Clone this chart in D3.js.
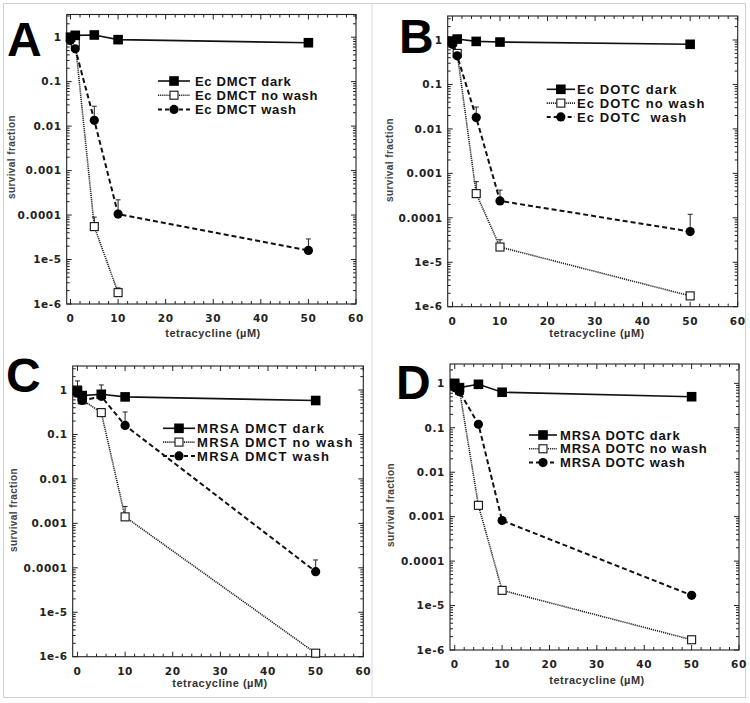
<!DOCTYPE html>
<html><head><meta charset="utf-8">
<script src="https://cdn.jsdelivr.net/npm/d3@7"></script>
<style>body{margin:0;background:#fff}svg{display:block}</style>
</head><body><svg id="c" width="750" height="703"></svg>
<script>
// ---------- data ----------
const conc = [0, 1, 5, 10, 50];
const xTicks = [0, 10, 20, 30, 40, 50, 60];
const yTicks = [1, 0.1, 0.01, 0.001, 0.0001, 1e-5, 1e-6];
const yTickLabels = ["1", "0.1", "0.01", "0.001", "0.0001", "1e-5", "1e-6"];
const panelLetters = ["A", "B", "C", "D"];
const xTitle = "tetracycline (\u00b5M)";
const yTitle = "survival fraction";

const A_dark   = [1.0, 1.1, 1.12, 0.88, 0.75];
const A_nowash = [0.95, 0.75, 5.5e-5, 1.8e-6, null];
const A_wash   = [0.85, 0.55, 0.0135, 1.05e-4, 1.6e-5];
const A_nowashErr = [null, null, 9e-5, 2.3e-6, null];
const A_washErr   = [null, null, 0.028, 2.2e-4, 2.9e-5];

const B_dark   = [0.95, 1.05, 0.93, 0.9, 0.8];
const B_nowash = [0.9, 0.5, 3.5e-4, 2.2e-5, 1.75e-6];
const B_wash   = [0.8, 0.44, 0.018, 2.4e-4, 4.9e-5];
const B_nowashErr = [null, null, 6.5e-4, 3.2e-5, null];
const B_washErr   = [null, null, 0.031, 4.2e-4, 1.2e-4];

const C_dark   = [0.95, 0.75, 0.8, 0.7, 0.58];
const C_nowash = [1.0, 0.6, 0.31, 0.0014, 1.2e-6];
const C_wash   = [0.85, 0.58, 0.72, 0.16, 8.2e-5];
const C_nowashErr = [1.6, null, null, 0.0024, null];
const C_washErr   = [null, null, 1.3, 0.32, 1.5e-4];

const D_dark   = [1.0, 0.8, 0.95, 0.63, 0.5];
const D_nowash = [0.9, 0.7, 0.0018, 2.2e-5, 1.7e-6];
const D_wash   = [0.8, 0.65, 0.12, 8.2e-4, 1.7e-5];
const D_nowashErr = [null, null, null, null, null];
const D_washErr   = [null, null, null, null, null];

const legendA = ["Ec DMCT dark", "Ec DMCT no wash", "Ec DMCT wash"];
const legendB = ["Ec DOTC dark", "Ec DOTC no wash", "Ec DOTC  wash"];
const legendC = ["MRSA DMCT dark", "MRSA DMCT no wash", "MRSA DMCT wash"];
const legendD = ["MRSA DOTC dark", "MRSA DOTC no wash", "MRSA DOTC wash"];

// ---------- layout ----------
const layout = [
  {left: 66.7, right: 356, top: 14.5, bottom: 304, xMin: -0.8, topDec: 0.51,
   letter: [7, 56], leg: {x1: 158, x2: 190, tx: 195, y0: 81, dy: 14.2, fs: 13, ls: 0.7},
   xt: [213, 337], yt: [11, 157]},
  {left: 447.7, right: 737.7, top: 16, bottom: 306.7, xMin: -1, topDec: 0.54,
   letter: [399, 53], leg: {x1: 546.7, x2: 575, tx: 577, y0: 89.3, dy: 13.8, fs: 13, ls: 1.1},
   xt: [597, 337], yt: [389, 160]},
  {left: 72.7, right: 363.3, top: 366, bottom: 656.7, xMin: -1, topDec: 0.54,
   letter: [6, 392], leg: {x1: 163, x2: 195, tx: 197, y0: 428.3, dy: 13.8, fs: 13, ls: 1.3},
   xt: [220, 687], yt: [13, 510]},
  {left: 450, right: 739, top: 364, bottom: 650, xMin: -1, topDec: 0.435,
   letter: [396, 399], leg: {x1: 529, x2: 557, tx: 560, y0: 435, dy: 13.8, fs: 13, ls: 0.8},
   xt: [597, 684], yt: [390, 505]}
];

const panels = [
  {dark: A_dark, nowash: A_nowash, wash: A_wash, nErr: A_nowashErr, wErr: A_washErr, legend: legendA},
  {dark: B_dark, nowash: B_nowash, wash: B_wash, nErr: B_nowashErr, wErr: B_washErr, legend: legendB},
  {dark: C_dark, nowash: C_nowash, wash: C_wash, nErr: C_nowashErr, wErr: C_washErr, legend: legendC},
  {dark: D_dark, nowash: D_nowash, wash: D_wash, nErr: D_nowashErr, wErr: D_washErr, legend: legendD}
];

const styles = {
  dark:   {w: 1.6, dash: null,  color: "#111"},
  nowash: {w: 1.6, dash: "1.2,0.9", color: "#222"},
  wash:   {w: 2,   dash: "5,3", color: "#111"}
};

const svg = d3.select("#c");
// outer frame
svg.append("rect").attr("x", 3.5).attr("y", 3.5).attr("width", 742).attr("height", 694)
  .attr("fill", "none").attr("stroke", "#d0d0d0").attr("stroke-width", 1);
svg.append("line").attr("x1", 372).attr("x2", 372).attr("y1", 3.5).attr("y2", 697.5)
  .attr("stroke", "#d8d8d8").attr("stroke-width", 1);

function marker(g, kind, cx, cy) {
  if (kind === "dark") {
    g.append("rect").attr("x", cx - 4.8).attr("y", cy - 4.8).attr("width", 9.6).attr("height", 9.6).attr("fill", "#000");
  } else if (kind === "nowash") {
    g.append("rect").attr("x", cx - 4).attr("y", cy - 4).attr("width", 8).attr("height", 8)
      .attr("fill", "#fff").attr("stroke", "#111").attr("stroke-width", 1.1);
  } else {
    g.append("circle").attr("cx", cx).attr("cy", cy).attr("r", 4.6).attr("fill", "#000");
  }
}

panels.forEach((p, i) => {
  const L = layout[i];
  const g = svg.append("g");
  const x = d3.scaleLinear().domain([L.xMin, 60]).range([L.left, L.right]);
  const y = d3.scaleLog().domain([1e-6, Math.pow(10, L.topDec)]).range([L.bottom, L.top]);

  // frame
  g.append("rect").attr("x", L.left).attr("y", L.top).attr("width", L.right - L.left).attr("height", L.bottom - L.top)
    .attr("fill", "none").attr("stroke", "#222").attr("stroke-width", 1.1);

  // x ticks (major 10, minor 2)
  const xMinor = d3.range(0, 61, 2);
  xMinor.forEach(v => {
    const len = v % 10 === 0 ? 5 : 3;
    const xx = x(v);
    g.append("line").attr("x1", xx).attr("x2", xx).attr("y1", L.bottom).attr("y2", L.bottom - len).attr("stroke", "#222");
    g.append("line").attr("x1", xx).attr("x2", xx).attr("y1", L.top).attr("y2", L.top + len).attr("stroke", "#222");
  });
  // y ticks
  const yAll = [];
  for (let e = -6; e <= 0; e++) for (let m = 1; m <= 9; m++) {
    const v = m * Math.pow(10, e);
    if (v <= Math.pow(10, L.topDec)) yAll.push([v, m === 1]);
  }
  yAll.forEach(([v, maj]) => {
    const len = maj ? 5 : 3;
    const yy = y(v);
    g.append("line").attr("x1", L.left).attr("x2", L.left + len).attr("y1", yy).attr("y2", yy).attr("stroke", "#222");
    g.append("line").attr("x1", L.right).attr("x2", L.right - len).attr("y1", yy).attr("y2", yy).attr("stroke", "#222");
  });

  // tick labels
  xTicks.forEach(v => {
    g.append("text").attr("x", x(v)).attr("y", L.bottom + 18).attr("text-anchor", "middle")
      .attr("font-family", "'DejaVu Sans', sans-serif").attr("font-weight", "bold").attr("font-size", 10.5)
      .attr("letter-spacing", 0.6).attr("fill", "#222").text(v);
  });
  yTicks.forEach((v, k) => {
    g.append("text").attr("x", L.left - 5).attr("y", y(v)).attr("dy", "0.36em").attr("text-anchor", "end")
      .attr("font-family", "'DejaVu Sans', sans-serif").attr("font-weight", "bold").attr("font-size", 10.5)
      .attr("letter-spacing", 0.6).attr("fill", "#222").text(yTickLabels[k]);
  });

  // axis titles
  g.append("text").attr("x", L.xt[0]).attr("y", L.xt[1]).attr("text-anchor", "middle")
    .attr("font-family", "'Liberation Sans', Arial, sans-serif").attr("font-weight", "bold").attr("font-size", 11)
    .attr("letter-spacing", 0.5).attr("fill", "#333").text(xTitle);
  g.append("text").attr("transform", `translate(${L.yt[0]},${L.yt[1]}) rotate(-90)`).attr("text-anchor", "middle")
    .attr("dy", "0.35em")
    .attr("font-family", "'Liberation Sans', Arial, sans-serif").attr("font-weight", "bold").attr("font-size", 10)
    .attr("letter-spacing", 0.4).attr("fill", "#444").text(yTitle);

  // panel letter
  g.append("text").attr("x", L.letter[0]).attr("y", L.letter[1])
    .attr("font-family", "'Liberation Sans', Arial, sans-serif").attr("font-weight", "bold").attr("font-size", 48)
    .attr("fill", "#000").text(panelLetters[i]);

  // series lines
  const kinds = [["nowash", p.nowash], ["wash", p.wash], ["dark", p.dark]];
  const line = d3.line().defined(d => d[1] != null).x(d => x(d[0])).y(d => y(d[1]));
  kinds.forEach(([k, vals]) => {
    const st = styles[k];
    g.append("path").datum(conc.map((c, j) => [c, vals[j]])).attr("d", line)
      .attr("fill", "none").attr("stroke", st.color).attr("stroke-width", st.w)
      .attr("stroke-dasharray", st.dash);
  });
  // error bars
  [[p.nowash, p.nErr], [p.wash, p.wErr]].forEach(([vals, errs]) => {
    conc.forEach((c, j) => {
      if (errs[j] == null || vals[j] == null) return;
      const xx = x(c), y0 = y(vals[j]), y1 = y(errs[j]);
      g.append("line").attr("x1", xx).attr("x2", xx).attr("y1", y0).attr("y2", y1).attr("stroke", "#222").attr("stroke-width", 1);
      g.append("line").attr("x1", xx - 2.5).attr("x2", xx + 2.5).attr("y1", y1).attr("y2", y1).attr("stroke", "#222").attr("stroke-width", 1);
    });
  });
  // markers
  kinds.forEach(([k, vals]) => {
    conc.forEach((c, j) => { if (vals[j] != null) marker(g, k, x(c), y(vals[j])); });
  });

  // legend
  const lg = L.leg;
  ["dark", "nowash", "wash"].forEach((k, r) => {
    const yy = lg.y0 + r * lg.dy;
    const st = styles[k];
    g.append("line").attr("x1", lg.x1).attr("x2", lg.x2).attr("y1", yy).attr("y2", yy)
      .attr("stroke", st.color).attr("stroke-width", st.w).attr("stroke-dasharray", k === "wash" ? "4,3" : st.dash);
    marker(g, k, (lg.x1 + lg.x2) / 2, yy);
    g.append("text").attr("x", lg.tx).attr("y", yy).attr("dy", "0.36em")
      .attr("font-family", "'Liberation Sans', Arial, sans-serif").attr("font-weight", "bold").attr("font-size", lg.fs)
      .attr("letter-spacing", lg.ls)
      .attr("fill", "#111").style("white-space", "pre").text(p.legend[r]);
  });
});
</script></body></html>
